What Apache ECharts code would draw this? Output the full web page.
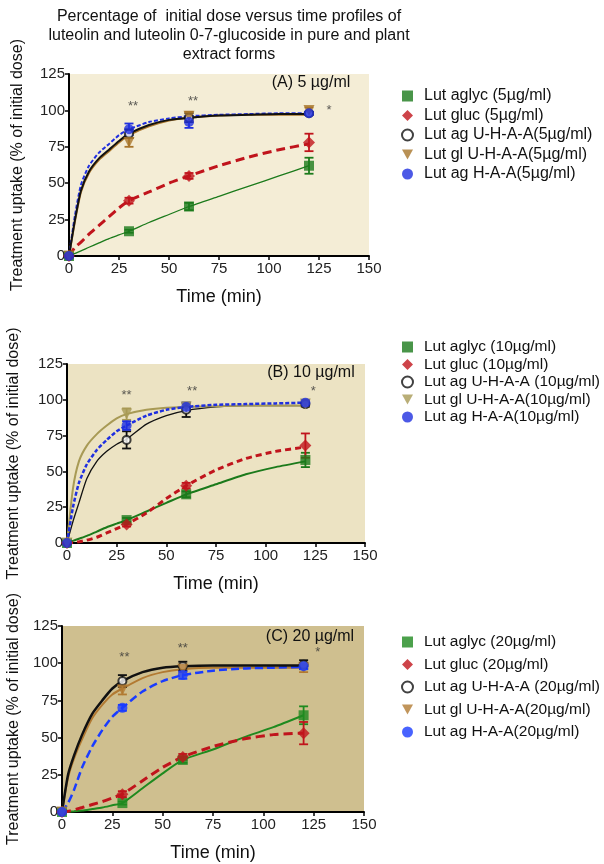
<!DOCTYPE html>
<html>
<head>
<meta charset="utf-8">
<script src="https://cdn.jsdelivr.net/npm/echarts@6/dist/echarts.min.js"></script>
<style>
  html, body { margin: 0; padding: 0; background: #fff; }
  #chart { width: 604px; height: 864px; }
</style>
</head>
<body>
<div id="chart"></div>
<script>
// measured time points and times at which the fitted curves were read
const pointTimes = [0, 30, 60, 120]
const curveTimes = [0, 3, 6, 10, 15, 20, 25, 30, 40, 50, 60, 75, 90, 105, 120]

// (A) 5 ug/ml
const namesA = ['Lut aglyc (5µg/ml)', 'Lut gluc (5µg/ml)', 'Lut ag U-H-A-A(5µg/ml)', 'Lut gl U-H-A-A(5µg/ml)', 'Lut ag H-A-A(5µg/ml)']
const aglycA = [0, 17, 34, 62]
const glucA = [0, 38, 55, 78]
const agUhaaA = [0, 84, 95, 98]
const glUhaaA = [0, 78, 96, 100]
const agHaaA = [0, 87, 92, 98]
const aglycErrA = [0, 1, 2.5, 5.5]
const glucErrA = [0, 2, 2, 6]
const agUhaaErrA = [0, 3, 3, 1]
const glUhaaErrA = [0, 3, 3, 2]
const agHaaErrA = [0, 4, 4, 1]
const aglycFitA = [0, 1.8, 3.5, 6, 9, 12, 14.5, 17, 23, 28.5, 34, 41, 48, 55, 62]
const glucFitA = [0, 6, 9.5, 15, 21, 27, 33, 38, 44, 50, 55, 62, 68, 73, 77]
const agUhaaFitA = [0, 25, 45, 58, 67, 73, 79, 84, 90, 93.5, 95, 96.5, 97, 97.5, 97.5]
const glUhaaFitA = [0, 24, 44, 57, 66, 72, 78, 83, 89, 93, 95, 96.5, 97, 97, 97]
const agHaaFitA = [0, 28, 49, 62, 71, 77, 83, 87, 92, 94.5, 96, 97, 97.5, 98, 98]
const starTimesA = [32, 62, 130]
const starValsA = [103, 106, 100]

// (B) 10 ug/ml
const namesB = ['Lut aglyc (10µg/ml)', 'Lut gluc (10µg/ml)', 'Lut ag U-H-A-A (10µg/ml)', 'Lut gl U-H-A-A(10µg/ml)', 'Lut ag H-A-A(10µg/ml)']
const aglycB = [0, 16, 34, 58]
const glucB = [0, 13, 40, 68]
const agUhaaB = [0, 72, 93, 97]
const glUhaaB = [0, 90, 95, 97]
const agHaaB = [0, 82, 95, 98]
const aglycErrB = [0, 1.5, 2, 5]
const glucErrB = [0, 1.5, 2, 8.5]
const agUhaaErrB = [0, 6, 5, 2]
const glUhaaErrB = [0, 4, 2, 2]
const agHaaErrB = [0, 3, 3, 2]
const aglycFitB = [0, 1.5, 3, 5, 8, 11, 13.5, 16, 22, 28, 34, 41, 48, 53, 57]
const glucFitB = [0, 0.3, 0.8, 2, 4, 7, 10, 13, 21, 31, 40, 51, 59, 64, 67]
const agUhaaFitB = [0, 15, 28, 45, 57, 64, 69, 72.5, 83, 89, 92.5, 95, 96, 96, 96]
const glUhaaFitB = [0, 38, 57, 68, 76, 82, 87, 90, 93, 94.5, 95, 95.5, 96, 96, 96]
const agHaaFitB = [0, 25, 42, 55, 65, 72, 78, 82, 89, 93, 95, 96.5, 97, 97.5, 98]
const starTimesB = [30, 63, 124]
const starValsB = [103, 106, 106]

// (C) 20 ug/ml
const namesC = ['Lut aglyc (20µg/ml)', 'Lut gluc (20µg/ml)', 'Lut ag U-H-A-A (20µg/ml)', 'Lut gl U-H-A-A(20µg/ml)', 'Lut ag H-A-A(20µg/ml)']
const aglycC = [0, 6, 35, 65]
const glucC = [0, 12, 37, 53]
const agUhaaC = [0, 88, 98, 99]
const glUhaaC = [0, 82, 96, 97]
const agHaaC = [0, 70, 92, 98]
const aglycErrC = [0, 1, 2, 6]
const glucErrC = [0, 2, 2, 7.5]
const agUhaaErrC = [0, 4, 3, 3]
const glUhaaErrC = [0, 3, 2, 3]
const agHaaErrC = [0, 2, 2.5, 2]
const aglycFitC = [0, 0.2, 0.5, 1, 2, 3, 4.5, 6, 16, 26, 35, 42, 50, 57, 65]
const glucFitC = [0, 0.5, 1.5, 3, 5, 7, 9.5, 12, 21, 30, 37, 44, 49, 52, 53]
const agUhaaFitC = [0, 25, 38, 52, 66, 75, 83, 88, 94, 97, 98, 98.5, 98.5, 98.5, 98.5]
const glUhaaFitC = [0, 23, 36, 49, 63, 72, 79, 83, 90, 94, 96, 97, 97, 97, 97]
const agHaaFitC = [0, 6, 15, 30, 44, 55, 64, 70, 81, 88, 92, 95, 96.5, 97, 97.5]
const starTimesC = [31, 60, 127]
const starValsC = [104, 110, 107]
const starText = ['**', '**', '*']

const downTriangle = 'path://M0,0L10,0L5,9Z'
const icons = ['rect', 'diamond', 'emptyCircle', downTriangle, 'circle']
const symbolSizes = [10, 12, 8, 11, 10]

const panels = [
  {
    names: namesA, points: [aglycA, glucA, agUhaaA, glUhaaA, agHaaA],
    errs: [aglycErrA, glucErrA, agUhaaErrA, glUhaaErrA, agHaaErrA],
    fits: [aglycFitA, glucFitA, agUhaaFitA, glUhaaFitA, agHaaFitA],
    starT: starTimesA, starV: starValsA,
    colors: ['#1b7a1b', '#c0141c', '#111111', '#a8752a', '#1f2fe0'],
    widths: [1.3, 3, 2, 2, 2],
    dashes: ['solid', [9, 5], 'solid', 'solid', [4, 2]],
    bg: '#f4edd6', grid: { left: 69, top: 74, width: 300, height: 182 },
    yGap: 43, legendTop: 83, legendGap: 3.5, legendFont: 16
  },
  {
    names: namesB, points: [aglycB, glucB, agUhaaB, glUhaaB, agHaaB],
    errs: [aglycErrB, glucErrB, agUhaaErrB, glUhaaErrB, agHaaErrB],
    fits: [aglycFitB, glucFitB, agUhaaFitB, glUhaaFitB, agHaaFitB],
    starT: starTimesB, starV: starValsB,
    colors: ['#1b7a1b', '#c0141c', '#111111', '#a89a55', '#1f2fe0'],
    widths: [2, 3, 1.3, 2, 2.5],
    dashes: ['solid', [6, 4], 'solid', 'solid', [4, 2]],
    bg: '#ece3c3', grid: { left: 67, top: 364, width: 298, height: 179 },
    yGap: 45, legendTop: 334, legendGap: 1.5, legendFont: 15.5
  },
  {
    names: namesC, points: [aglycC, glucC, agUhaaC, glUhaaC, agHaaC],
    errs: [aglycErrC, glucErrC, agUhaaErrC, glUhaaErrC, agHaaErrC],
    fits: [aglycFitC, glucFitC, agUhaaFitC, glUhaaFitC, agHaaFitC],
    starT: starTimesC, starV: starValsC,
    colors: ['#1f8a1f', '#c0141c', '#111111', '#b27a32', '#1a3cff'],
    widths: [2, 3, 2.5, 2, 2.5],
    dashes: ['solid', [9, 5], 'solid', 'solid', [8, 4]],
    bg: '#cfbf8f', grid: { left: 62, top: 626, width: 302, height: 186 },
    yGap: 40, legendTop: 629, legendGap: 6.5, legendFont: 15.5
  }
]
const panelLabels = ['(A) 5 µg/ml', '(B) 10 µg/ml', '(C) 20 µg/ml']
const labelPos = [[311, 83], [311, 373], [310, 637]]

const grids = []
const xAxes = []
const yAxes = []
const legends = []
const series = []

panels.forEach((p, pi) => {
  grids.push(Object.assign({
    show: true, backgroundColor: p.bg, borderWidth: 0, outerBoundsMode: 'none'
  }, p.grid))
  xAxes.push({
    type: 'value', gridIndex: pi, min: 0, max: 150, interval: 25,
    name: 'Time (min)', nameLocation: 'middle', nameGap: 32,
    nameTextStyle: { fontSize: 18, color: '#111' },
    axisLine: { onZero: false, lineStyle: { color: '#000', width: 2 } },
    axisTick: { length: 4, lineStyle: { color: '#000', width: 1.5 } },
    axisLabel: { fontSize: 15, color: '#222', margin: 5 },
    splitLine: { show: false }
  })
  yAxes.push({
    type: 'value', gridIndex: pi, min: 0, max: 125, interval: 25,
    name: 'Treatment uptake (% of initial dose)', nameLocation: 'middle', nameGap: p.yGap,
    nameTextStyle: { fontSize: 16, color: '#111' },
    axisLine: { show: true, onZero: false, lineStyle: { color: '#000', width: 2 } },
    axisTick: { show: true, length: 4, lineStyle: { color: '#000', width: 1.5 } },
    axisLabel: { fontSize: 15, color: '#222', margin: 4 },
    splitLine: { show: false }
  })
  legends.push({
    data: p.names.map((n, i) => ({ name: n, icon: icons[i] })),
    orient: 'vertical', left: 396, top: p.legendTop,
    itemWidth: 11, itemHeight: 11, itemGap: p.legendGap,
    selectedMode: false,
    textStyle: { fontSize: p.legendFont, lineHeight: 16, color: '#111', padding: [0, 0, 0, 6] }
  })

  p.names.forEach((name, i) => {
    const color = p.colors[i]
    series.push({
      name: name + ' fit', type: 'line', xAxisIndex: pi, yAxisIndex: pi,
      data: curveTimes.map((t, k) => [t, p.fits[i][k]]),
      smooth: 0.2, showSymbol: false, silent: true,
      lineStyle: { color: color, width: p.widths[i], type: p.dashes[i] },
      z: i === 2 && pi !== 1 ? 3 : 2
    })
    series.push({
      name: name + ' err', type: 'custom', xAxisIndex: pi, yAxisIndex: pi,
      data: pointTimes.map((t, k) => [t, p.points[i][k], p.errs[i][k]]),
      encode: { x: 0, y: 1 },
      renderItem: (params, api) => {
        const t = api.value(0), v = api.value(1), e = api.value(2)
        if (!e) return
        const hi = api.coord([t, v + e])
        const lo = api.coord([t, v - e])
        const w = 4.5
        const st = { stroke: color, lineWidth: 1.8 }
        return {
          type: 'group',
          children: [
            { type: 'line', shape: { x1: hi[0], y1: hi[1], x2: lo[0], y2: lo[1] }, style: st },
            { type: 'line', shape: { x1: hi[0] - w, y1: hi[1], x2: hi[0] + w, y2: hi[1] }, style: st },
            { type: 'line', shape: { x1: lo[0] - w, y1: lo[1], x2: lo[0] + w, y2: lo[1] }, style: st }
          ]
        }
      },
      z: 4
    })
    series.push({
      name: name, type: 'scatter', xAxisIndex: pi, yAxisIndex: pi,
      data: pointTimes.map((t, k) => [t, p.points[i][k]]),
      symbol: icons[i], symbolSize: symbolSizes[i],
      itemStyle: i === 2 ? { color: color, borderWidth: 2 } : { color: color },
      z: i === 2 ? 4 : 5
    })
  })

  series.push({
    name: 'stars ' + pi, type: 'scatter', xAxisIndex: pi, yAxisIndex: pi,
    data: p.starT.map((t, k) => [t, p.starV[k], starText[k]]),
    symbolSize: 1, itemStyle: { color: 'rgba(0,0,0,0)' }, silent: true,
    label: { show: true, position: 'inside', formatter: d => d.data[2], fontSize: 13, color: '#333' },
    z: 6
  })
})

const titles = [{
  text: 'Percentage of  initial dose versus time profiles of\nluteolin and luteolin 0-7-glucoside in pure and plant\nextract forms',
  left: 229, top: 7, textAlign: 'center', padding: 0,
  textStyle: { fontSize: 16, fontWeight: 'normal', lineHeight: 19, color: '#111' }
}]
panelLabels.forEach((txt, i) => {
  titles.push({
    text: txt, left: labelPos[i][0], top: labelPos[i][1],
    textAlign: 'center', textVerticalAlign: 'middle', padding: 0,
    textStyle: { fontSize: 16, fontWeight: 'normal', color: '#111' }
  })
})

const chart = echarts.init(document.getElementById('chart'))
chart.setOption({
  animation: false,
  backgroundColor: '#fff',
  textStyle: { fontFamily: 'Liberation Sans, Arial, sans-serif' },
  title: titles,
  legend: legends,
  grid: grids,
  xAxis: xAxes,
  yAxis: yAxes,
  series: series
})
</script>
</body>
</html>
